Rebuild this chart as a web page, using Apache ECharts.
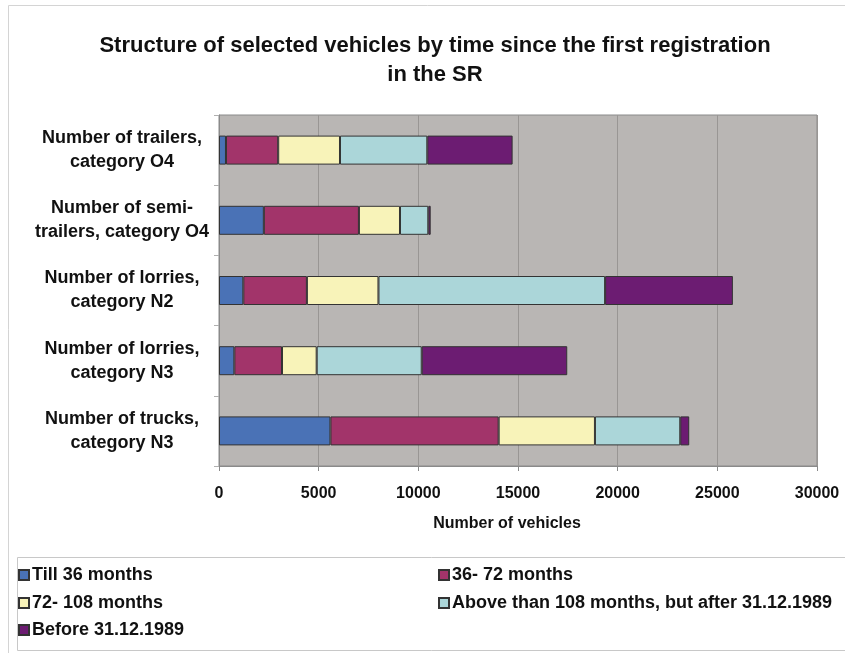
<!DOCTYPE html>
<html>
<head>
<meta charset="utf-8">
<script src="https://cdn.jsdelivr.net/npm/echarts@6/dist/echarts.min.js"></script>
<style>
  html, body { margin: 0; padding: 0; background: #fff; }
  #chart { width: 845px; height: 653px; }
</style>
</head>
<body>
<div id="chart"></div>
<script>
// Vehicle groups, listed top to bottom
const categories = [
  'Number of trailers,\ncategory O4',
  'Number of semi-\ntrailers, category O4',
  'Number of lorries,\ncategory N2',
  'Number of lorries,\ncategory N3',
  'Number of trucks,\ncategory N3'
];

// Age groups (time since first registration)
const seriesNames = [
  'Till 36 months',
  '36- 72 months',
  '72- 108 months',
  'Above than 108 months, but after 31.12.1989',
  'Before 31.12.1989'
];

// Number of vehicles per age group, same order as categories
const till36 = [350, 2250, 1220, 770, 5590];
const m36to72 = [2620, 4770, 3190, 2390, 8440];
const m72to108 = [3100, 2060, 3590, 1740, 4830];
const above108 = [4380, 1420, 11370, 5270, 4280];
const before1990 = [4280, 120, 6410, 7300, 450];

const xTicks = { min: 0, max: 30000, interval: 5000 };

const colors = ['#4A72B6', '#A2346A', '#F8F3B9', '#ABD6D9', '#6C1C72'];
const seriesData = [till36, m36to72, m72to108, above108, before1990];

const FONT = '"Liberation Sans", Arial, sans-serif';

const chart = echarts.init(document.getElementById('chart'), null, { renderer: 'canvas' });

// One legend per entry so the entries sit in two fixed columns
const legendPos = [
  { left: 18, top: 566 },
  { left: 438, top: 566 },
  { left: 18, top: 594 },
  { left: 438, top: 594 },
  { left: 18, top: 621 }
];
const legends = seriesNames.map((name, i) => ({
  data: [name],
  left: legendPos[i].left,
  top: legendPos[i].top,
  icon: 'rect',
  itemWidth: 10,
  itemHeight: 10,
  itemGap: 4,
  padding: 0,
  selectedMode: false,
  textStyle: { fontFamily: FONT, fontWeight: 'bold', fontSize: 18, color: '#111', padding: [0, 0, 0, -2] }
}));

const option = {
  animation: false,
  backgroundColor: '#ffffff',
  title: {
    text: 'Structure of selected vehicles by time since the first registration\nin the SR',
    left: 430,
    top: 26,
    textAlign: 'center',
    textStyle: { fontFamily: FONT, fontWeight: 'bold', fontSize: 22, lineHeight: 29, color: '#111' }
  },
  legend: legends,
  grid: { left: 219, right: 28, top: 115, bottom: 187, show: true, backgroundColor: '#B9B6B4', borderColor: '#8a8a8a', borderWidth: 1 },
  xAxis: {
    type: 'value',
    min: xTicks.min,
    max: xTicks.max,
    interval: xTicks.interval,
    name: 'Number of vehicles',
    nameLocation: 'middle',
    nameGap: 50,
    nameTextStyle: { fontFamily: FONT, fontWeight: 'bold', fontSize: 16, color: '#111', padding: [0, 22, 0, 0] },
    axisLine: { show: true, lineStyle: { color: '#8a8a8a' } },
    axisTick: { show: true, length: 5, lineStyle: { color: '#8a8a8a' } },
    axisLabel: { fontFamily: FONT, fontWeight: 'bold', fontSize: 16, color: '#111', margin: 20, formatter: v => String(v) },
    splitLine: { show: true, lineStyle: { color: '#999694', width: 1 } }
  },
  yAxis: {
    type: 'category',
    data: categories,
    inverse: true,
    axisLine: { show: true, lineStyle: { color: '#8a8a8a' } },
    axisTick: { show: true, length: 5, lineStyle: { color: '#b0b0b0' } },
    axisLabel: {
      fontFamily: FONT, fontWeight: 'bold', fontSize: 18, color: '#111',
      lineHeight: 24, align: 'center', margin: 97, padding: [4, 0, 0, 0]
    }
  },
  graphic: [
    { type: 'rect', shape: { x: 8.5, y: 5.5, width: 845, height: 660 }, style: { fill: 'none', stroke: '#d4d4d4', lineWidth: 1 }, silent: true, z: -1 },
    { type: 'rect', shape: { x: 17.5, y: 557.5, width: 840, height: 93 }, style: { fill: 'none', stroke: '#c8c8c8', lineWidth: 1 }, silent: true, z: -1 }
  ],
  series: seriesNames.map((name, i) => ({
    name: name,
    type: 'bar',
    stack: 'total',
    barWidth: 29,
    data: seriesData[i],
    itemStyle: { color: colors[i], borderColor: '#333', borderWidth: 1 },
    emphasis: { disabled: true }
  }))
};

chart.setOption(option);
</script>
</body>
</html>
